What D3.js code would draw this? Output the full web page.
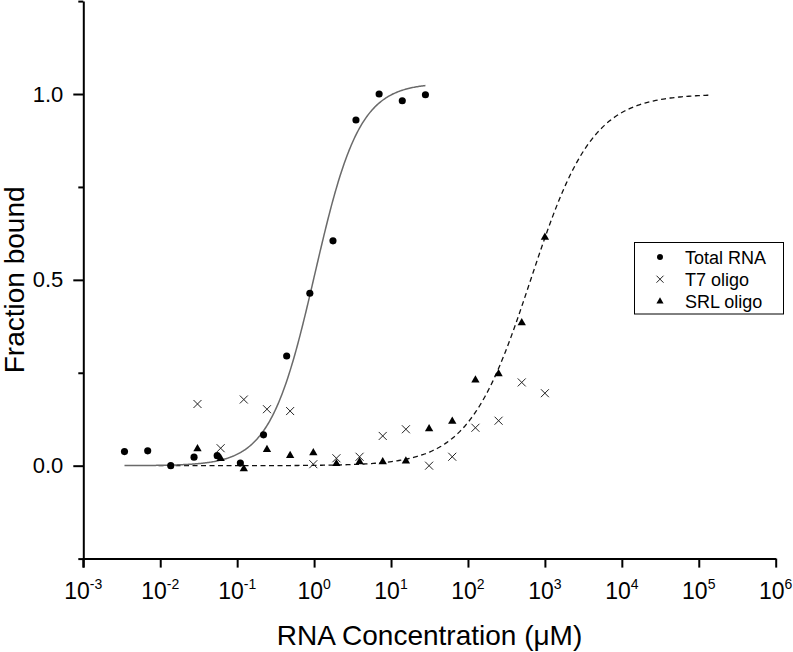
<!DOCTYPE html>
<html>
<head>
<meta charset="utf-8">
<script src="https://cdn.jsdelivr.net/npm/d3@7"></script>
<style>
  html, body { margin: 0; padding: 0; background: #fff; }
  svg { display: block; font-family: "Liberation Sans", Arial, sans-serif; }
</style>
</head>
<body>
<svg id="chart" width="793" height="652"></svg>
<script>
// ---- data ----
const totalX = [0.00343, 0.00687, 0.0137, 0.0275, 0.055, 0.11, 0.22, 0.44, 0.88, 1.76, 3.5, 7, 14, 28];
const totalY = [0.038, 0.040, 0.000, 0.023, 0.027, 0.007, 0.083, 0.295, 0.464, 0.605, 0.930, 1.000, 0.982, 0.998];

const oligoX = [0.0305, 0.061, 0.122, 0.244, 0.488, 0.977, 1.95, 3.9, 7.8, 15.6, 31.25, 62.5, 125, 250, 500, 1000];
const t7Y    = [0.166, 0.047, 0.178, 0.152, 0.147, 0.004, 0.020, 0.024, 0.080, 0.098, 0.000, 0.024, 0.102, 0.121, 0.224, 0.195];
const srlY   = [0.044, 0.018, -0.010, 0.042, 0.026, 0.033, 0.004, 0.009, 0.009, 0.011, 0.098, 0.118, 0.229, 0.246, 0.383, 0.613];

// Hill fit parameters (as shown by the fitted curves)
const totalFit = { Bmax: 1.03, K: 1.02, n: 1.5, xFrom: 0.00343, xTo: 28 };
const srlFit   = { Bmax: 1.0, K: 653, n: 1.08, xFrom: 0.0095, xTo: 1.36e5 };

const xTickExps = [-3, -2, -1, 0, 1, 2, 3, 4, 5, 6];
const yMajorTicks = [0, 0.5, 1.0];
const yMinorTicks = [-0.25, 0.25, 0.75, 1.25];
const legendLabels = ["Total RNA", "T7 oligo", "SRL oligo"];

// ---- layout ----
const svg = d3.select("#chart");
const mLeft = 83.3, mRight = 775.7, mTop = 1.1, mBottom = 558.6;

const x = d3.scaleLog().domain([1e-3, 1e6]).range([mLeft, mRight]);
const y = d3.scaleLinear().domain([-0.25, 1.25]).range([mBottom, mTop]);

// ---- fitted curves ----
function hill(p, v) { return p.Bmax * Math.pow(v, p.n) / (Math.pow(p.K, p.n) + Math.pow(v, p.n)); }
function curvePts(p) {
  const lo = Math.log10(p.xFrom), hi = Math.log10(p.xTo);
  return d3.range(0, 301).map(i => { const v = Math.pow(10, lo + (hi - lo) * i / 300); return [v, hill(p, v)]; });
}
const line = d3.line().x(d => x(d[0])).y(d => y(d[1])).curve(d3.curveLinear);

svg.append("path").attr("d", line(curvePts(srlFit)))
  .attr("fill", "none").attr("stroke", "#111").attr("stroke-width", 1.3).attr("stroke-dasharray", "5,3.5");
svg.append("path").attr("d", line(curvePts(totalFit)))
  .attr("fill", "none").attr("stroke", "#6a6a6a").attr("stroke-width", 1.5);

// ---- markers ----
const circleSym = d3.symbol().type(d3.symbolCircle).size(40);
const triSym = d3.symbol().type(d3.symbolTriangle).size(30);

function drawCross(g, cx, cy, s) {
  g.append("path").attr("d", `M${cx - s},${cy - s}L${cx + s},${cy + s}M${cx - s},${cy + s}L${cx + s},${cy - s}`)
    .attr("stroke", "#222").attr("stroke-width", 1).attr("fill", "none");
}

const pts = svg.append("g");
oligoX.forEach((v, i) => drawCross(pts, x(v), y(t7Y[i]), 4));
oligoX.forEach((v, i) => {
  pts.append("path").attr("d", triSym()).attr("transform", `translate(${x(v)},${y(srlY[i]) - 0.5})`).attr("fill", "#000");
});
totalX.forEach((v, i) => {
  pts.append("path").attr("d", circleSym()).attr("transform", `translate(${x(v)},${y(totalY[i])})`).attr("fill", "#000");
});

// ---- axes ----
const axisColor = "#000";
const gx = svg.append("g").attr("transform", `translate(0,${mBottom})`)
  .call(d3.axisBottom(x).tickValues(xTickExps.map(e => Math.pow(10, e))).tickSize(9).tickSizeOuter(0).tickFormat(""));
gx.select(".domain").attr("stroke", axisColor).attr("stroke-width", 2);
gx.selectAll(".tick line").attr("stroke", axisColor).attr("stroke-width", 2);

const xl = svg.append("g");
xTickExps.forEach(e => {
  const t = xl.append("text").attr("x", x(Math.pow(10, e))).attr("y", mBottom + 40)
    .attr("text-anchor", "middle").attr("font-size", 23).attr("fill", "#000");
  t.append("tspan").text("10");
  t.append("tspan").attr("dy", -10).attr("font-size", 14).text(e < 0 ? "-" + (-e) : String(e));
});

const gyMinor = svg.append("g").attr("transform", `translate(${mLeft},0)`)
  .call(d3.axisLeft(y).tickValues(yMinorTicks).tickSize(5).tickSizeOuter(0).tickFormat(""));
gyMinor.select(".domain").attr("stroke", axisColor).attr("stroke-width", 2);
gyMinor.selectAll(".tick line").attr("stroke", axisColor).attr("stroke-width", 2);

const gy = svg.append("g").attr("transform", `translate(${mLeft},0)`)
  .call(d3.axisLeft(y).tickValues(yMajorTicks).tickSize(10).tickSizeOuter(0).tickPadding(10).tickFormat(d3.format(".1f")));
gy.select(".domain").remove();
gy.selectAll(".tick line").attr("stroke", axisColor).attr("stroke-width", 2);
gy.selectAll(".tick text").attr("font-size", 22).attr("fill", "#000")
  .attr("font-family", "'Liberation Sans', Arial, sans-serif");

// extend y axis line below the x-axis (matches reference)
svg.append("line").attr("x1", mLeft).attr("x2", mLeft).attr("y1", mBottom).attr("y2", mBottom + 9)
  .attr("stroke", axisColor).attr("stroke-width", 2);

// ---- axis titles ----
svg.append("text").attr("x", (mLeft + mRight) / 2).attr("y", 645).attr("text-anchor", "middle")
  .attr("font-size", 28).attr("fill", "#000").text("RNA Concentration (\u03BCM)");
svg.append("text").attr("transform", `translate(24,${(mTop + mBottom) / 2}) rotate(-90)`).attr("text-anchor", "middle")
  .attr("font-size", 28).attr("fill", "#000").text("Fraction bound");

// ---- legend ----
const lg = svg.append("g");
lg.append("rect").attr("x", 634.5).attr("y", 242.5).attr("width", 149).attr("height", 71.5)
  .attr("fill", "#fff").attr("stroke", "#000").attr("stroke-width", 1);
const rowY = [257, 279.2, 301.4];
legendLabels.forEach((lab, i) => {
  const cy = rowY[i];
  if (i === 0) lg.append("path").attr("d", d3.symbol().type(d3.symbolCircle).size(28)()).attr("transform", `translate(660,${cy})`).attr("fill", "#000");
  if (i === 1) drawCross(lg, 660, cy, 3.5);
  if (i === 2) lg.append("path").attr("d", d3.symbol().type(d3.symbolTriangle).size(22)()).attr("transform", `translate(660,${cy})`).attr("fill", "#000");
  lg.append("text").attr("x", 685).attr("y", cy + 6.5).attr("font-size", 18).attr("fill", "#000").text(lab);
});
</script>
</body>
</html>
